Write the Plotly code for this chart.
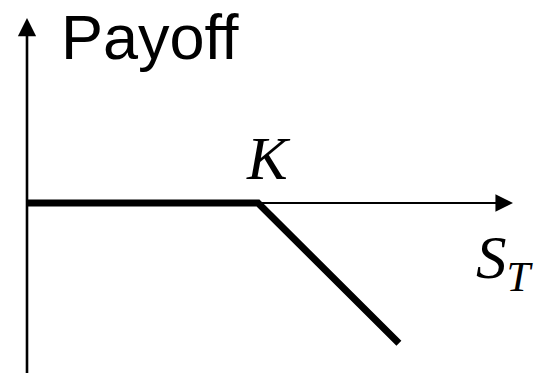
import plotly.graph_objects as go

# Payoff of a short call (conceptual units)
strike = 100
spot_values = [0, 100, 161]
payoff_values = [0, 0, -61]
axis_x_max = 210.4
axis_y_max = 80.4
axis_y_min = -75

fig = go.Figure()
fig.add_trace(go.Scatter(x=spot_values, y=payoff_values, mode="lines",
                         line=dict(color="black", width=7), hoverinfo="skip"))

# axes as arrows
fig.add_annotation(x=axis_x_max, y=0, ax=0, ay=0, xref="x", yref="y", axref="x", ayref="y",
                   showarrow=True, arrowhead=2, arrowsize=1.6, arrowwidth=2.2, arrowcolor="black", text="")
fig.add_annotation(x=0, y=axis_y_max, ax=0, ay=axis_y_min, xref="x", yref="y", axref="x", ayref="y",
                   showarrow=True, arrowhead=2, arrowsize=1.4, arrowwidth=2.6, arrowcolor="black", text="")

W, H = 535, 373
def px(x): return x / W
def py(y): return 1 - y / H

fig.add_annotation(x=px(59), y=1, xref="paper", yref="paper", text="Payoff", showarrow=False,
                   xanchor="left", yanchor="top",
                   font=dict(family="Liberation Sans, Arial", size=63, color="black"))
fig.add_annotation(x=px(268), y=py(158), xref="paper", yref="paper", text="<i>K</i>", showarrow=False,
                   xanchor="center", yanchor="middle",
                   font=dict(family="Liberation Serif, Times New Roman", size=61, color="black"))
fig.add_annotation(x=px(474), y=py(262), xref="paper", yref="paper", text="<i>S<sub>T</sub></i>", showarrow=False,
                   xanchor="left", yanchor="middle",
                   font=dict(family="Liberation Serif, Times New Roman", size=61, color="black"))

fig.update_xaxes(range=[-27 / 2.31, (W - 27) / 2.31], visible=False)
fig.update_yaxes(range=[-(H - 203) / 2.3, 203 / 2.3], visible=False)
fig.update_layout(width=W, height=H, margin=dict(l=0, r=0, t=0, b=0),
                  plot_bgcolor="white", paper_bgcolor="white", showlegend=False)
fig.write_html("out.html", config={"displayModeBar": False, "staticPlot": True},
               post_script="document.body.style.margin='0';document.body.style.overflow='hidden';")
